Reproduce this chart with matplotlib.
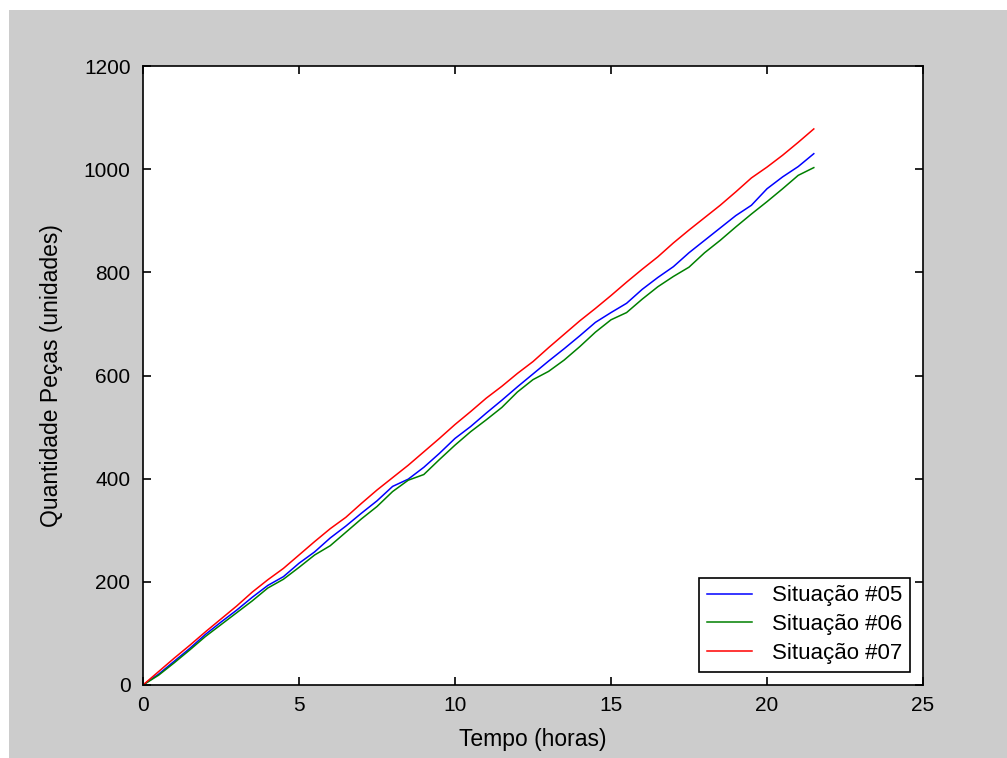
import matplotlib
matplotlib.use('Agg')
import matplotlib.pyplot as plt
from matplotlib.patches import Rectangle

plt.rcParams['font.family'] = ['Liberation Sans', 'DejaVu Sans']

tempo = [0, 0.5, 1, 1.5, 2, 2.5, 3, 3.5, 4, 4.5, 5, 5.5, 6, 6.5, 7, 7.5,
         8, 8.5, 9, 9.5, 10, 10.5, 11, 11.5, 12, 12.5, 13, 13.5, 14, 14.5,
         15, 15.5, 16, 16.5, 17, 17.5, 18, 18.5, 19, 19.5, 20, 20.5, 21, 21.5]

sit05 = [0, 21, 46, 71, 98, 122, 145, 170, 193, 210, 236, 258, 285, 308, 333, 357,
         385, 399, 422, 449, 478, 501, 527, 552, 578, 603, 628, 652, 677, 703,
         722, 740, 767, 790, 811, 838, 862, 886, 910, 930, 962, 985, 1005, 1030]

sit06 = [0, 19, 43, 68, 94, 117, 140, 163, 188, 205, 228, 252, 270, 296, 322, 346,
         375, 397, 408, 437, 465, 491, 514, 538, 568, 592, 608, 630, 656, 684,
         708, 722, 748, 772, 792, 810, 838, 862, 888, 913, 937, 962, 988, 1003]

sit07 = [0, 26, 52, 77, 103, 128, 153, 180, 204, 226, 252, 278, 303, 325, 352, 378,
         402, 426, 452, 478, 505, 530, 556, 579, 604, 627, 654, 680, 706, 730,
         755, 781, 806, 830, 857, 882, 906, 930, 956, 983, 1004, 1027, 1052, 1078]

legendas = ['Situação #05', 'Situação #06', 'Situação #07']

fig = plt.figure(figsize=(10.07, 7.58), dpi=100, facecolor='white')
# fundo cinza estilo MATLAB
fig.patches.append(Rectangle((9 / 1007, 0), 1, 1 - 10 / 758, transform=fig.transFigure,
                             facecolor='#cccccc', edgecolor='none', zorder=-1))

ax = fig.add_axes([143 / 1007, 1 - 685 / 758, (923 - 143) / 1007, (685 - 66) / 758])
ax.set_facecolor('white')

ax.plot(tempo, sit05, color='#0000ff', lw=1.1, label=legendas[0])
ax.plot(tempo, sit06, color='#008000', lw=1.1, label=legendas[1])
ax.plot(tempo, sit07, color='#ff0000', lw=1.1, label=legendas[2])

ax.set_xlim(0, 25)
ax.set_ylim(0, 1200)
ax.set_xticks([0, 5, 10, 15, 20, 25])
ax.set_yticks([0, 200, 400, 600, 800, 1000, 1200])

for s in ax.spines.values():
    s.set_linewidth(1.2)
    s.set_color('black')
ax.tick_params(direction='in', length=6, width=1.2, top=True, right=True,
               labelsize=15, colors='black')
ax.tick_params(axis='x', pad=8)
ax.tick_params(axis='y', pad=9)

ax.set_xlabel('Tempo (horas)', fontsize=16.5, labelpad=9)
ax.set_ylabel('Quantidade Peças (unidades)', fontsize=16.5, labelpad=15)

leg = ax.legend(loc='lower right', fontsize=16, frameon=True, fancybox=False,
                edgecolor='black', framealpha=1, handlelength=2.0,
                handletextpad=0.9, labelspacing=0.35, borderpad=0.35,
                borderaxespad=0.6)
leg.get_frame().set_linewidth(1.2)

fig.savefig('out.png', dpi=100, facecolor=fig.get_facecolor())
